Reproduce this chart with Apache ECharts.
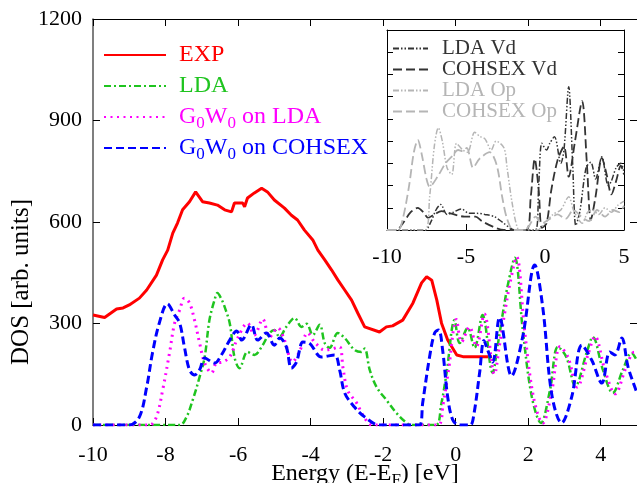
<!DOCTYPE html>
<html><head><meta charset="utf-8">
<script src="https://cdn.jsdelivr.net/npm/echarts@6/dist/echarts.min.js"></script>
<style>html,body{margin:0;padding:0;background:#fff}#c{width:637px;height:483px}</style>
</head><body><div id="c"></div>
<script>
// ---- main plot data (Energy eV, DOS arb. units) ----
const expE   = [-10,-9.68,-9.35,-9.17,-9.0,-8.72,-8.52,-8.25,-8.08,-7.94,-7.8,-7.67,-7.53,-7.34,-7.17,-6.98,-6.79,-6.57,-6.37,-6.18,-6.1,-5.87,-5.82,-5.74,-5.55,-5.35,-5.19,-5.0,-4.72,-4.53,-4.36,-4.17,-3.94,-3.8,-3.61,-3.42,-3.25,-3.06,-2.87,-2.7,-2.51,-2.46,-2.1,-1.91,-1.74,-1.46,-1.18,-0.94,-0.8,-0.66,-0.52,-0.39,-0.22,0.03,0.2,0.75,1.0];
const expDOS = [325,318,343,346,355,375,399,443,488,517,567,597,636,660,689,660,656,650,636,630,656,656,645,671,686,700,689,665,641,620,606,576,547,517,488,458,429,399,369,331,290,287,275,290,293,310,360,420,438,428,369,301,251,207,202,202,202];

const ldaE   = [-10,-7.61,-7.42,-7.25,-7.06,-6.92,-6.79,-6.65,-6.57,-6.45,-6.37,-6.23,-6.1,-5.96,-5.74,-5.55,-5.35,-5.13,-5.0,-4.86,-4.67,-4.44,-4.25,-4.11,-3.94,-3.75,-3.61,-3.48,-3.25,-3.06,-2.79,-2.6,-2.51,-2.37,-2.18,-1.91,-1.63,-1.35,-1.2,-0.55,-0.4,-0.25,-0.03,0.11,0.33,0.52,0.74,1.02,1.15,1.3,1.45,1.63,1.85,2.1,2.35,2.6,2.82,3.05,3.3,3.61,3.78,4.06,4.33,4.61,4.85,5.0];
const ldaDOS = [0,0,24,74,142,201,310,369,390,370,349,301,201,168,216,207,231,272,281,260,290,316,290,299,266,296,242,228,272,257,222,216,226,163,112,74,35,6,0,0,60,154,310,242,287,228,325,154,230,330,420,494,281,83,6,103,231,201,115,213,260,163,95,163,213,190];

const gwLdaE   = [-10,-8.44,-8.25,-8.08,-7.89,-7.75,-7.61,-7.48,-7.34,-7.2,-7.06,-6.92,-6.73,-6.6,-6.43,-6.23,-6.01,-5.74,-5.55,-5.32,-5.13,-4.91,-4.72,-4.5,-4.31,-4.08,-3.89,-3.61,-3.4,-3.2,-3.11,-2.98,-2.73,-2.56,-2.3,-0.5,-0.35,-0.2,0.02,0.16,0.38,0.57,0.79,1.07,1.2,1.35,1.5,1.68,1.9,2.15,2.4,2.65,2.88,3.1,3.35,3.66,3.84,4.12,4.4,4.68,4.92,5.0];
const gwLdaDOS = [0,0,24,103,213,301,340,375,361,310,242,183,154,183,186,201,257,301,266,313,260,287,251,186,216,272,245,222,225,231,171,103,65,30,0,0,60,160,312,245,290,232,328,150,230,330,420,497,280,80,5,100,232,200,112,212,262,160,92,165,215,205];

const gwCohE   = [-10,-9.0,-8.72,-8.52,-8.36,-8.17,-7.95,-7.75,-7.61,-7.48,-7.34,-7.2,-7.06,-6.92,-6.65,-6.46,-6.23,-6.04,-5.9,-5.63,-5.46,-5.22,-5.0,-4.85,-4.67,-4.53,-4.39,-4.21,-4.04,-3.7,-3.34,-3.2,-3.06,-2.79,-2.51,-2.1,-1.0,-0.91,-0.72,-0.58,-0.47,-0.36,-0.22,-0.08,0.1,0.4,0.5,0.66,0.78,0.88,1.02,1.21,1.54,1.85,2.18,2.4,2.65,2.92,3.2,3.48,3.75,4.03,4.25,4.39,4.58,4.75,4.94,5.0];
const gwCohDOS = [0,0,24,112,213,302,358,325,301,231,163,148,163,198,183,207,251,278,251,296,251,272,236,257,231,168,186,245,242,201,207,163,95,53,24,0,0,65,201,272,281,222,83,15,0,0,30,154,250,222,186,318,145,262,473,349,90,6,83,236,192,124,216,207,257,173,112,95];

// ---- inset data (Energy eV, projected DOS arb.) ----
const ldaVdE = [-10,-7.6,-7.2,-6.9,-6.6,-6.2,-5.8,-5.3,-4.8,-4.3,-3.8,-3.2,-2.7,-1.9,-0.6,-0.4,-0.2,0.1,0.3,0.6,1.0,1.2,1.5,1.75,1.95,2.2,2.6,2.9,3.2,3.6,4.0,4.2,4.5,4.8,5.0];
const ldaVd  = [0,0,0.4,0.9,1.15,0.7,0.8,0.95,0.75,0.75,0.7,0.6,0.35,0,0,2.0,3.9,3.6,3.9,4.2,3.0,3.6,6.45,3.0,0.2,0.8,2.8,3.05,2.3,3.3,2.0,2.2,2.8,3.0,2.6];
const cohVdE = [-10,-9.4,-9.0,-8.5,-8.05,-7.7,-7.4,-7.0,-6.55,-6.0,-5.5,-5.1,-4.4,-4.0,-3.3,-2.6,-1.2,-0.9,-0.65,-0.4,-0.2,0.1,0.4,0.8,1.2,1.5,1.9,2.35,2.65,2.9,3.2,3.6,3.9,4.2,4.5,4.8,5.0];
const cohVd  = [0,0,0.3,0.8,1.0,0.8,0.55,0.7,0.85,0.75,0.65,0.6,0.6,0.4,0.15,0,0,1.5,3.2,1.8,0.1,0.3,1.8,3.15,3.75,2.4,4.0,5.8,3.0,0.45,1.5,3.25,2.5,1.6,2.2,2.9,2.5];
const ldaOpE = [-10,-7.6,-7.3,-7.0,-6.75,-6.5,-6.2,-5.9,-5.6,-5.2,-4.9,-4.45,-4.1,-3.8,-3.4,-3.1,-2.6,-2.4,-2.1,-1.75,-1.5,-0.5,0.0,0.5,1.0,1.5,1.8,2.1,2.35,2.7,3.0,3.4,3.8,4.2,4.6,5.0];
const ldaOp  = [0,0,1.5,3.8,4.6,4.0,2.8,2.5,3.9,3.6,3.5,4.4,4.2,4.1,3.6,4.0,3.7,2.8,1.3,0.1,0,0,0.3,0.7,0.9,1.5,0.9,0.5,0.3,0.8,0.9,0.7,1.0,0.8,1.1,1.3];
const cohOpE = [-10,-9.3,-9.0,-8.6,-8.3,-8.05,-7.8,-7.5,-7.3,-6.8,-6.3,-5.9,-5.5,-5.2,-4.95,-4.55,-4.15,-3.5,-3.05,-2.7,-2.4,-2.0,-1.3,-1.0,-0.6,-0.2,0.3,0.8,1.3,1.8,2.3,2.8,3.3,3.8,4.3,4.7,5.0];
const cohOp  = [0,0,0.5,2.0,3.5,4.05,3.4,2.3,1.95,2.4,3.0,3.3,3.6,3.55,3.7,2.8,3.2,3.5,2.9,1.45,0.5,0,0,0.2,0.6,0.3,0.5,0.7,0.5,0.9,0.6,0.4,0.9,0.6,0.9,0.8,1.1];

const mainTicksX = [-10,5,2];
const mainTicksY = [0,1200,300];
const insetTicksX = [-10,5,5];
const insetTicksY = [0,9,1];

const zip = (a,b) => a.map((x,i)=>[x,b[i]]);
const FONT = 'Liberation Serif';
const RED='#ff0000', GREEN='#1fc41f', MAG='#ff00ff', BLUE='#0000ff', DARK='#333333', LIGHT='#b5b5b5';

const chart = echarts.init(document.getElementById('c'), null, {renderer:'canvas'});
const axisLine = {show:true, onZero:false, lineStyle:{color:'#000', width:1}};
const noLabel = {show:false};
const sub = {s:{fontSize:17, lineHeight:17, verticalAlign:'bottom', fontFamily:FONT}};
const fmt = n => n.replace(/G0W0/g,'G{s|0}W{s|0}');
const plain = v => String(v);

function mk(name, E, V, color, width, type, xi, yi, smooth){
  return {name, type:'line', xAxisIndex:xi, yAxisIndex:yi, data:zip(E,V), showSymbol:false, symbol:'none',
    smooth: smooth, clip:true, lineStyle:{color, width, type}, itemStyle:{color}, animation:false};
}

chart.setOption({
  animation:false,
  backgroundColor:'#fff',
  grid:[
    {left:93, top:19, width:544, height:406, outerBoundsMode:'none', containLabel:false},
    {left:387, top:30, width:237, height:200, outerBoundsMode:'none', containLabel:false, show:true, backgroundColor:'#fff', borderWidth:0, z:3}
  ],
  xAxis:[
    {gridIndex:0, type:'value', min:mainTicksX[0], max:mainTicksX[1], interval:mainTicksX[2], position:'bottom',
     axisLine, axisTick:{inside:true, length:7, lineStyle:{color:'#000'}}, splitLine:{show:false},
     axisLabel:{fontFamily:FONT, fontSize:22, color:'#000', margin:19, showMaxLabel:false, formatter:plain},
     name:'Energy (E-E{s|F}) [eV]', nameLocation:'middle', nameGap:34, nameMoveOverlap:false,
     nameTextStyle:{fontFamily:FONT, fontSize:24, color:'#000', lineHeight:30, rich:sub}},
    {gridIndex:0, type:'value', min:mainTicksX[0], max:mainTicksX[1], interval:mainTicksX[2], position:'top',
     axisLine, axisTick:{inside:true, length:7, lineStyle:{color:'#000'}}, axisLabel:noLabel, splitLine:{show:false}},
    {gridIndex:1, type:'value', min:insetTicksX[0], max:insetTicksX[1], interval:insetTicksX[2], position:'bottom',
     axisLine, axisTick:{inside:true, length:6, lineStyle:{color:'#000'}}, splitLine:{show:false},
     axisLabel:{fontFamily:FONT, fontSize:22, color:'#000', margin:16, formatter:plain}, z:4},
    {gridIndex:1, type:'value', min:insetTicksX[0], max:insetTicksX[1], interval:insetTicksX[2], position:'top',
     axisLine, axisTick:{show:false}, axisLabel:noLabel, splitLine:{show:false}, z:4}
  ],
  yAxis:[
    {gridIndex:0, type:'value', min:mainTicksY[0], max:mainTicksY[1], interval:mainTicksY[2], position:'left',
     axisLine:{show:true, onZero:false, lineStyle:{color:'#555', width:1.5}}, axisTick:{inside:true, length:7, lineStyle:{color:'#000'}}, splitLine:{show:false},
     axisLabel:{fontFamily:FONT, fontSize:22, color:'#000', margin:11, formatter:plain},
     name:'DOS [arb. units]', nameLocation:'middle', nameGap:59, nameRotate:90, nameMoveOverlap:false,
     nameTextStyle:{fontFamily:FONT, fontSize:25, color:'#000', padding:[0,120,0,0]}},
    {gridIndex:0, type:'value', min:mainTicksY[0], max:mainTicksY[1], interval:mainTicksY[2], position:'right',
     axisLine, axisTick:{inside:true, length:7, lineStyle:{color:'#000'}}, axisLabel:noLabel, splitLine:{show:false}},
    {gridIndex:1, type:'value', min:insetTicksY[0], max:insetTicksY[1], interval:insetTicksY[2], position:'left',
     axisLine, axisTick:{inside:true, length:6, lineStyle:{color:'#000'}}, axisLabel:noLabel, splitLine:{show:false}, z:4},
    {gridIndex:1, type:'value', min:insetTicksY[0], max:insetTicksY[1], interval:insetTicksY[2], position:'right',
     axisLine, axisTick:{inside:true, length:6, lineStyle:{color:'#000'}}, axisLabel:noLabel, splitLine:{show:false}, z:4}
  ],
  legend:[
    {orient:'vertical', left:103, top:40, padding:0, itemWidth:62, itemHeight:14, itemGap:1, selectedMode:false,
     formatter:fmt, itemStyle:{opacity:0},
     textStyle:{fontFamily:FONT, fontSize:24, lineHeight:30, padding:[0,0,0,8], rich:sub},
     data:[{name:'EXP', textStyle:{color:RED}},{name:'LDA', textStyle:{color:GREEN}},
           {name:'G0W0 on LDA', textStyle:{color:MAG}},{name:'G0W0 on COHSEX', textStyle:{color:BLUE}}]},
    {orient:'vertical', left:392, top:38, padding:0, itemWidth:35, itemHeight:12, itemGap:0, selectedMode:false, z:5,
     itemStyle:{opacity:0},
     textStyle:{fontFamily:FONT, fontSize:21, lineHeight:19, padding:[0,0,0,9]},
     data:[{name:'LDA Vd', textStyle:{color:DARK}},{name:'COHSEX Vd', textStyle:{color:DARK}},
           {name:'LDA Op', textStyle:{color:LIGHT}},{name:'COHSEX Op', textStyle:{color:LIGHT}}]}
  ],
  series:[
    mk('EXP', expE, expDOS, RED, 3, 'solid', 0, 0, false),
    mk('LDA', ldaE, ldaDOS, GREEN, 2.5, [7,3,2,3], 0, 0, 0.35),
    mk('G0W0 on LDA', gwLdaE, gwLdaDOS, MAG, 3, [2,4.5], 0, 0, 0.35),
    mk('G0W0 on COHSEX', gwCohE, gwCohDOS, BLUE, 3, [8,4], 0, 0, 0.35),
    Object.assign(mk('LDA Vd', ldaVdE, ldaVd, DARK, 1.5, [6,2,1.5,2,1.5,2], 2, 2, 0.3), {z:4}),
    Object.assign(mk('COHSEX Vd', cohVdE, cohVd, DARK, 1.8, [9,4], 2, 2, 0.3), {z:4}),
    Object.assign(mk('LDA Op', ldaOpE, ldaOp, LIGHT, 1.5, [6,2,1.5,2,1.5,2], 2, 2, 0.3), {z:4}),
    Object.assign(mk('COHSEX Op', cohOpE, cohOp, LIGHT, 1.8, [9,4], 2, 2, 0.3), {z:4})
  ]
});
</script></body></html>
